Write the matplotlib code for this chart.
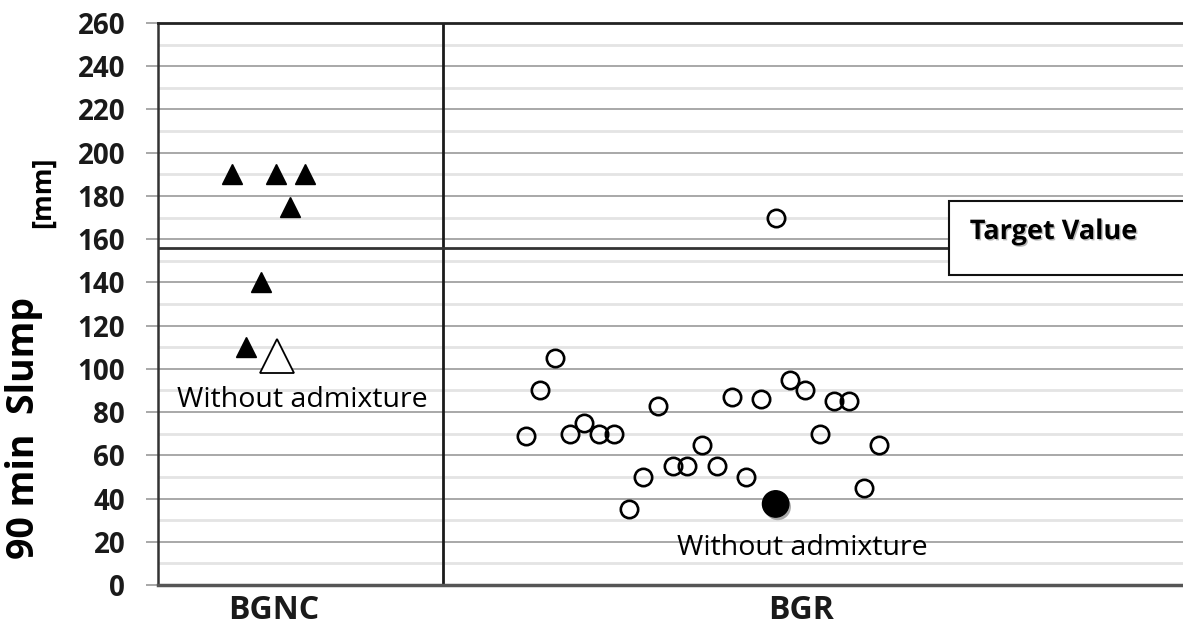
import matplotlib
matplotlib.use("Agg")
import matplotlib.pyplot as plt
import matplotlib.patheffects as pe
from matplotlib.patches import Rectangle

# BGNC: filled triangles (position index, slump mm)
bgnc_x = [5, 6, 7, 8, 9, 10]
bgnc_y = [190, 110, 140, 190, 175, 190]
bgnc_ref_x = [8.1]
bgnc_ref_y = [106]

# BGR: open circles
bgr_x = [25, 26, 27, 28, 29, 30, 31, 32, 33, 34, 35, 36, 37, 38, 39, 40, 41,
         42, 43, 44, 45, 46, 47, 48, 49]
bgr_y = [69, 90, 105, 70, 75, 70, 70, 35, 50, 83, 55, 55, 65, 55, 87, 50, 86,
         170, 95, 90, 70, 85, 85, 45, 65]
bgr_ref_x = [42]
bgr_ref_y = [37.5]

target_value = 156
group_split = 19.4
group_labels = ["BGNC", "BGR"]
group_label_x = [7.9, 43.7]
yticks = list(range(0, 261, 20))

fig = plt.figure(figsize=(11.83, 6.39), dpi=100)
ax = fig.add_axes([158 / 1183, 1 - 585 / 639, 1 - 158 / 1183, (585 - 23) / 639])
ax.set_xlim(0, 69.7)
ax.set_ylim(0, 260)

# grid: major every 20, minor every 10
for v in range(10, 260, 20):
    ax.axhline(v, color="#e4e4e4", lw=2.0, zorder=0)
for v in range(20, 260, 20):
    ax.axhline(v, color="#a8a8a8", lw=1.4, zorder=0.5)

ax.spines["right"].set_visible(False)
ax.spines["left"].set_color("#333333")
ax.spines["left"].set_linewidth(1.8)
ax.spines["top"].set_color("#222222")
ax.spines["top"].set_linewidth(2.0)
ax.spines["bottom"].set_color("#555555")
ax.spines["bottom"].set_linewidth(2.5)

ax.set_yticks(yticks)
ax.set_yticklabels([str(t) for t in yticks], fontsize=20, fontweight="bold",
                   family="Open Sans", color="#1a1a1a")
ax.tick_params(axis="y", length=8.6, width=1.4, color="#a8a8a8", pad=15)
ax.set_xticks([])

ax.axvline(group_split, color="#1a1a1a", lw=2.0, zorder=2)
ax.plot([0, 53.8], [target_value, target_value], color="#333333", lw=2.0, zorder=2)

# target value box (runs off the right edge)
box = Rectangle((53.8, 143.4), 30, 34.2, facecolor="white", edgecolor="#111111",
                lw=1.5, zorder=3)
ax.add_patch(box)
ax.text(55.2, 163.3, "Target Value", fontsize=19.5, fontweight="bold", family="Open Sans",
        va="center", ha="left", zorder=4,
        path_effects=[pe.withSimplePatchShadow(offset=(1, -1), shadow_rgbFace="#bbbbbb", alpha=1)])

ax.plot(bgnc_x, bgnc_y, "^", color="black", ms=14, zorder=5, clip_on=False)
ax.plot(bgnc_ref_x, bgnc_ref_y, "^", mfc="white", mec="black", mew=1.3, ms=24, zorder=5)

ax.plot(bgr_x, bgr_y, "o", mfc="none", mec="black", mew=1.9, ms=12.5, zorder=5)
ax.plot(bgr_ref_x, bgr_ref_y, "o", color="black", ms=19, zorder=6,
        path_effects=[pe.SimplePatchShadow(offset=(1.5, -2.2), shadow_rgbFace="#aaaaaa", alpha=1),
                      pe.Normal()])

ax.text(1.3, 85.5, "Without admixture", fontsize=20.5, family="Open Sans", va="center", ha="left")
ax.text(35.3, 17, "Without admixture", fontsize=20.5, family="Open Sans", va="center", ha="left")

for lbl, gx in zip(group_labels, group_label_x):
    ax.text(gx, -12, lbl, fontsize=23, fontweight="bold", family="Open Sans",
            ha="center", va="center", color="#1a1a1a")

fig.text(24 / 1183, 1 - 428 / 639, "90 min  Slump", rotation=90, fontsize=27,
         fontweight="bold", family="Open Sans", ha="center", va="center")
fig.text(43 / 1183, 1 - 192 / 639, "[mm]", rotation=90, fontsize=19.5,
         fontweight="bold", family="Open Sans", ha="center", va="center")

fig.savefig("out.png", dpi=100)
